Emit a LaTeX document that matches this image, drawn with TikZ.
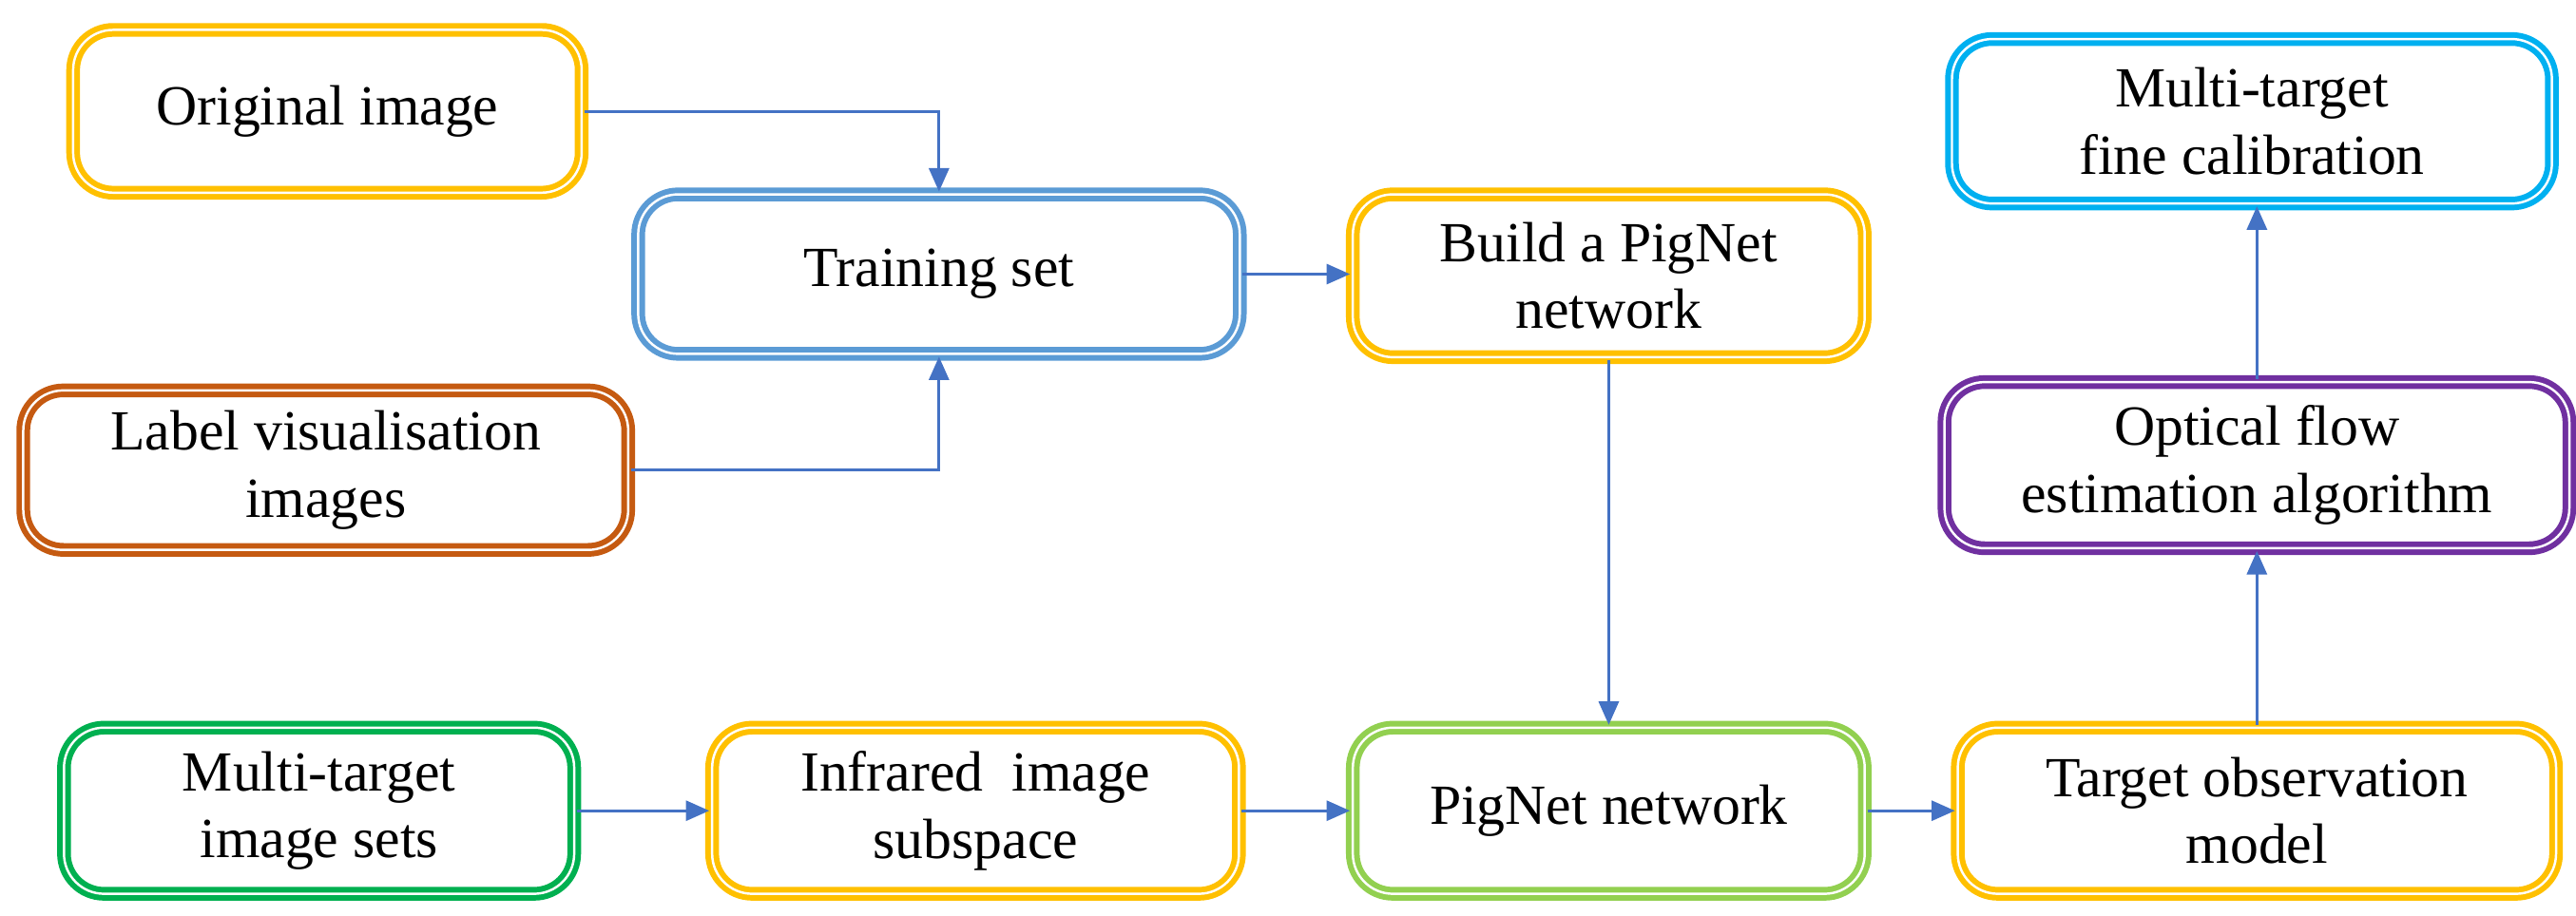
\documentclass[tikz,border=0pt]{standalone}
\usepackage{fontspec}
\setmainfont{Liberation Serif}
\usetikzlibrary{arrows.meta}
\definecolor{cyel}{RGB}{255,192,0}
\definecolor{cblu}{RGB}{91,155,213}
\definecolor{corg}{RGB}{197,90,17}
\definecolor{cgrn}{RGB}{0,176,80}
\definecolor{clgr}{RGB}{146,208,80}
\definecolor{cpur}{RGB}{112,48,160}
\definecolor{ccya}{RGB}{0,176,240}
\definecolor{carr}{RGB}{68,114,196}
\begin{document}
\begin{tikzpicture}[x=0.01748cm,y=-0.01748cm,
  box/.style={draw=#1,rectangle,rounded corners=12pt,line width=1.7pt,double=white,double distance=0.7pt,
    fill=white,align=center,font=\fontsize{17}{20}\selectfont,inner sep=0pt},
  arr/.style={carr,line width=0.8pt,-{Triangle[length=7pt,width=6pt]}}]
\useasboundingbox (0,0) rectangle (1550,551);
\node[box=cyel,minimum width=306*0.01748cm,minimum height=98*0.01748cm] (orig) at (197,67) {Original image};
\node[box=cblu,minimum width=362*0.01748cm,minimum height=96*0.01748cm] (train) at (565,165) {Training set};
\node[box=corg,minimum width=364*0.01748cm,minimum height=96*0.01748cm] (label) at (196,283) {Label visualisation\\images};
\node[box=cyel,minimum width=308*0.01748cm,minimum height=98*0.01748cm] (build) at (968,166) {Build a PigNet\\network};
\node[box=ccya,minimum width=361*0.01748cm,minimum height=99*0.01748cm] (fine) at (1355,73) {Multi-target\\fine calibration};
\node[box=cpur,minimum width=376*0.01748cm,minimum height=100*0.01748cm] (flow) at (1358,280) {Optical flow\\estimation algorithm};
\node[box=cgrn,minimum width=307*0.01748cm,minimum height=100*0.01748cm] (sets) at (192,488) {Multi-target\\image sets};
\node[box=cyel,minimum width=317*0.01748cm,minimum height=100*0.01748cm] (infra) at (587,488) {Infrared\ \ image\\subspace};
\node[box=clgr,minimum width=308*0.01748cm,minimum height=100*0.01748cm] (pig) at (968,488) {PigNet network};
\node[box=cyel,minimum width=360*0.01748cm,minimum height=100*0.01748cm] (obs) at (1358,488) {Target observation\\model};
\draw[arr] (orig.east) -| (train.north);
\draw[arr] (label.east) -| (train.south);
\draw[arr] (train.east) -- (train.east -| build.west);
\draw[arr] (build.south) -- (build.south |- pig.north);
\draw[arr] (sets.east) -- (infra.west);
\draw[arr] (infra.east) -- (pig.west);
\draw[arr] (pig.east) -- (obs.west);
\draw[arr] (obs.north) -- (obs.north |- flow.south);
\draw[arr] (flow.north) -- (flow.north |- fine.south);
\end{tikzpicture}
\end{document}
